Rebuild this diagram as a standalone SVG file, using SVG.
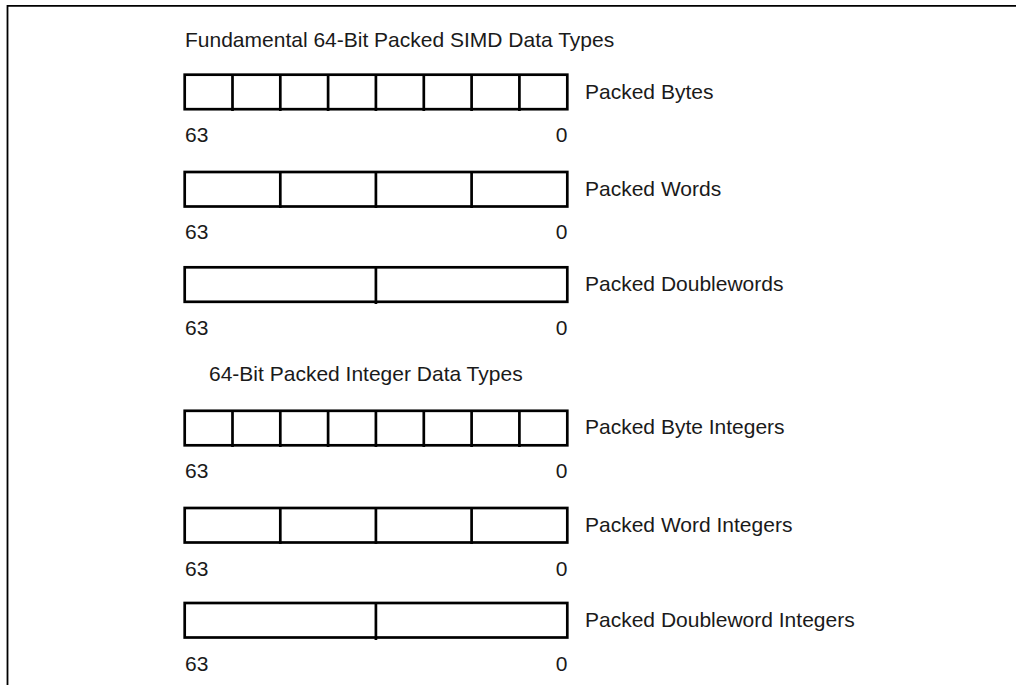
<svg xmlns="http://www.w3.org/2000/svg" width="1016" height="685" viewBox="0 0 1016 685">
<style>
  text { font-family: "Liberation Sans", Arial, sans-serif; font-size: 21px; fill: #1a1a1a; }
  .end { text-anchor: end; }
  .box { fill: none; stroke: #000; stroke-width: 2.7; }
  .div { stroke: #000; stroke-width: 2.7; }
  .frame { fill: none; stroke: #000; stroke-width: 1.8; }
</style>
<rect width="1016" height="685" fill="#fff"/>
<path class="frame" d="M7.5,690 V5.8 H1020"/>
<text x="185" y="46.5">Fundamental 64-Bit Packed SIMD Data Types</text>
<text x="209" y="381">64-Bit Packed Integer Data Types</text>

<g id="packed-bytes">
  <rect class="box" x="184.7" y="74.7" width="382.6" height="34.5"/>
  <path class="div" d="M232.5,74.7V111M280.3,74.7V111M328.1,74.7V111M375.9,74.7V111M423.8,74.7V111M471.6,74.7V111M519.4,74.7V111"/>
  <text x="585" y="98.5">Packed Bytes</text>
  <text x="185" y="142">63</text>
  <text class="end" x="567.5" y="142">0</text>
</g>
<g id="packed-words">
  <rect class="box" x="184.7" y="172" width="382.6" height="34.5"/>
  <path class="div" d="M280.3,172V208M375.9,172V208M471.6,172V208"/>
  <text x="585" y="195.5">Packed Words</text>
  <text x="185" y="239.3">63</text>
  <text class="end" x="567.5" y="239.3">0</text>
</g>
<g id="packed-doublewords">
  <rect class="box" x="184.7" y="267.3" width="382.6" height="34.5"/>
  <path class="div" d="M375.9,267.3V304"/>
  <text x="585" y="290.8">Packed Doublewords</text>
  <text x="185" y="334.8">63</text>
  <text class="end" x="567.5" y="334.8">0</text>
</g>
<g id="packed-byte-integers">
  <rect class="box" x="184.7" y="410.8" width="382.6" height="34.5"/>
  <path class="div" d="M232.5,410.8V447M280.3,410.8V447M328.1,410.8V447M375.9,410.8V447M423.8,410.8V447M471.6,410.8V447M519.4,410.8V447"/>
  <text x="585" y="434.3">Packed Byte Integers</text>
  <text x="185" y="478.2">63</text>
  <text class="end" x="567.5" y="478.2">0</text>
</g>
<g id="packed-word-integers">
  <rect class="box" x="184.7" y="508" width="382.6" height="34.5"/>
  <path class="div" d="M280.3,508V544M375.9,508V544M471.6,508V544"/>
  <text x="585" y="531.5">Packed Word Integers</text>
  <text x="185" y="575.5">63</text>
  <text class="end" x="567.5" y="575.5">0</text>
</g>
<g id="packed-doubleword-integers">
  <rect class="box" x="184.7" y="603" width="382.6" height="34.5"/>
  <path class="div" d="M375.9,603V640"/>
  <text x="585" y="627">Packed Doubleword Integers</text>
  <text x="185" y="670.5">63</text>
  <text class="end" x="567.5" y="670.5">0</text>
</g>
<g id="connectors"></g>
</svg>
